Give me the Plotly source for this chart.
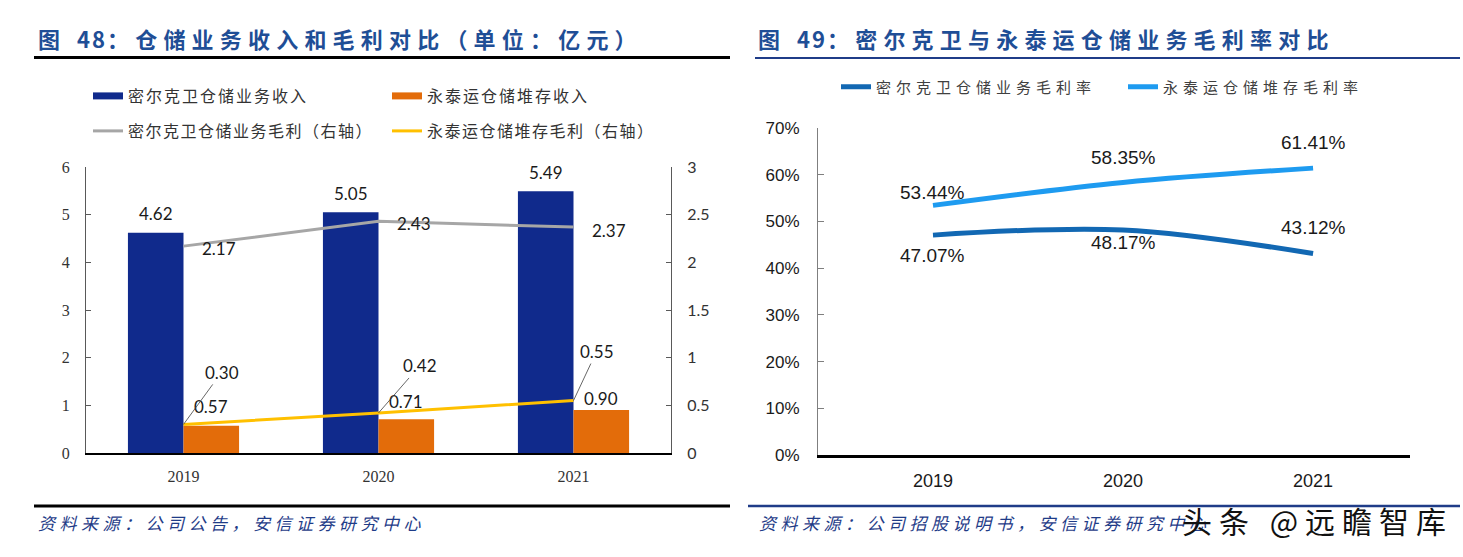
import plotly.graph_objects as go

W, H = 1463, 557

# ---------------- data ----------------
years = ["2019", "2020", "2021"]
mrkw_rev = [4.62, 5.05, 5.49]        # 密尔克卫仓储业务收入
ytw_rev = [0.57, 0.71, 0.90]         # 永泰运仓储堆存收入
mrkw_gp = [2.17, 2.43, 2.37]         # 密尔克卫仓储业务毛利（右轴）
ytw_gp = [0.30, 0.42, 0.55]          # 永泰运仓储堆存毛利（右轴）
mrkw_margin = [47.07, 48.17, 43.12]  # 密尔克卫仓储业务毛利率 (%)
ytw_margin = [53.44, 58.35, 61.41]   # 永泰运仓储堆存毛利率 (%)

left_ticks = [0, 1, 2, 3, 4, 5, 6]
right_ticks = [0, 0.5, 1, 1.5, 2, 2.5, 3]
right_ticktext = ["0", "0.5", "1", "1.5", "2", "2.5", "3"]
pct_ticks = [0, 10, 20, 30, 40, 50, 60, 70]
pct_ticktext = ["0%", "10%", "20%", "30%", "40%", "50%", "60%", "70%"]

# ---------------- styles ----------------
CJK = "Noto Sans CJK SC"
NAVY = "#102A8C"
ORANGE = "#E36C0A"
GRAY = "#A6A6A6"
YELLOW = "#FFC000"
DARKBLUE = "#1268B3"
LIGHTBLUE = "#1E9BF0"
TITLE_C = "#1F4E96"
FOOT_C = "#1F3C88"


def px(x):
    return x / W


def py(y):
    return 1 - y / H


def spaced(t, s):
    return f'<span style="letter-spacing:{s}px">{t}</span>'


fig = go.Figure()

fig.add_trace(go.Bar(x=years, y=mrkw_rev, marker=dict(color=NAVY, line=dict(width=0)),
                     name="密尔克卫仓储业务收入", showlegend=False, xaxis="x", yaxis="y"))
fig.add_trace(go.Bar(x=years, y=ytw_rev, marker=dict(color=ORANGE, line=dict(width=0)),
                     name="永泰运仓储堆存收入", showlegend=False, xaxis="x", yaxis="y"))
fig.add_trace(go.Scatter(x=years, y=mrkw_gp, mode="lines", line=dict(color=GRAY, width=3),
                         name=spaced("密尔克卫仓储业务毛利（右轴）", 1.5), legend="legend2",
                         xaxis="x", yaxis="y2"))
fig.add_trace(go.Scatter(x=years, y=ytw_gp, mode="lines", line=dict(color=YELLOW, width=3),
                         name=spaced("永泰运仓储堆存毛利（右轴）", 1.5), legend="legend2",
                         xaxis="x", yaxis="y2"))
fig.add_trace(go.Scatter(x=[None], y=[None], mode="lines", line=dict(color=NAVY, width=7),
                         name=spaced("密尔克卫仓储业务收入", 2), legend="legend", xaxis="x", yaxis="y"))
fig.add_trace(go.Scatter(x=[None], y=[None], mode="lines", line=dict(color=ORANGE, width=7),
                         name=spaced("永泰运仓储堆存收入", 2), legend="legend", xaxis="x", yaxis="y"))
fig.add_trace(go.Scatter(x=years, y=mrkw_margin, mode="lines",
                         line=dict(color=DARKBLUE, width=5, shape="spline", smoothing=1),
                         name=spaced("密尔克卫仓储业务毛利率", 5), legend="legend3",
                         xaxis="x2", yaxis="y3"))
fig.add_trace(go.Scatter(x=years, y=ytw_margin, mode="lines",
                         line=dict(color=LIGHTBLUE, width=5, shape="spline", smoothing=1),
                         name=spaced("永泰运仓储堆存毛利率", 5), legend="legend3",
                         xaxis="x2", yaxis="y3"))

annotations = []
annotations.append(dict(x=px(36), y=py(38), xref="paper", yref="paper", xanchor="left", yanchor="middle",
                        showarrow=False,
                        text="<b>" + spaced("图", 10) + spaced(" 48", 2) + spaced("：仓储业务收入和毛利对比（单位：亿元）", 6.2) + "</b>",
                        font=dict(family=CJK, size=22, color=TITLE_C)))
annotations.append(dict(x=px(756), y=py(38), xref="paper", yref="paper", xanchor="left", yanchor="middle",
                        showarrow=False,
                        text="<b>" + spaced("图", 10) + spaced(" 49", 2) + spaced("：密尔克卫与永泰运仓储业务毛利率对比", 6.2) + "</b>",
                        font=dict(family=CJK, size=22, color=TITLE_C)))
annotations.append(dict(x=px(36), y=py(522), xref="paper", yref="paper", xanchor="left", yanchor="middle",
                        showarrow=False, text="<i>" + spaced("资料来源：公司公告，安信证券研究中心", 4.5) + "</i>",
                        font=dict(family=CJK, size=17, color=FOOT_C)))
annotations.append(dict(x=px(757), y=py(522), xref="paper", yref="paper", xanchor="left", yanchor="middle",
                        showarrow=False, text="<i>" + spaced("资料来源：公司招股说明书，安信证券研究中心", 4.5) + "</i>",
                        font=dict(family=CJK, size=17, color=FOOT_C)))
annotations.append(dict(x=px(1180), y=py(520), xref="paper", yref="paper", xanchor="left", yanchor="middle",
                        showarrow=False, text=spaced("头条 @远瞻智库", 7),
                        font=dict(family=CJK, size=30, color="#111111")))

# data labels: x is the category index on the category axes
LBL = dict(family="Lato", size=17, color="#1a1a1a")
for i, v in enumerate(mrkw_rev):
    annotations.append(dict(x=i, y=v, xref="x", yref="y", text=f"{v:.2f}", showarrow=False,
                            xshift=-27.5, yshift=19, yanchor="middle", font=LBL))
for i, (v, ys) in enumerate(zip(ytw_rev, [19, 18, 12])):
    annotations.append(dict(x=i, y=v, xref="x", yref="y", text=f"{v:.2f}", showarrow=False,
                            xshift=27.5, yshift=ys, yanchor="middle", font=LBL))
for i, (v, ys) in enumerate(zip(mrkw_gp, [-2, -2, -3])):
    annotations.append(dict(x=i, y=v, xref="x", yref="y2", text=f"{v:.2f}", showarrow=False,
                            xshift=35, yshift=ys, yanchor="middle", font=LBL))
for i, (v, (ax, ay)) in enumerate(zip(ytw_gp, [(38, -52), (41, -47), (23, -49)])):
    annotations.append(dict(x=i, y=v, xref="x", yref="y2", text=f"{v:.2f}", showarrow=True,
                            arrowhead=0, arrowwidth=0.8, arrowcolor="#404040", ax=ax, ay=ay,
                            standoff=0, font=LBL))

LBL2 = dict(family="Liberation Sans", size=19, color="#1a1a1a")
for i, (v, ys) in enumerate(zip(ytw_margin, [13, 25, 26])):
    annotations.append(dict(x=i, y=v, xref="x2", yref="y3", text=f"{v:.2f}%", showarrow=False,
                            yshift=ys, yanchor="middle", font=LBL2))
for i, (v, ys) in enumerate(zip(mrkw_margin, [-20, -13, 26])):
    annotations.append(dict(x=i, y=v, xref="x2", yref="y3", text=f"{v:.2f}%", showarrow=False,
                            yshift=ys, yanchor="middle", font=LBL2))

shapes = [
    dict(type="line", xref="paper", yref="paper", x0=px(34), x1=px(730), y0=py(57.5), y1=py(57.5),
         line=dict(color="black", width=3)),
    dict(type="line", xref="paper", yref="paper", x0=px(755), x1=px(1460), y0=py(58), y1=py(58),
         line=dict(color=FOOT_C, width=2)),
    dict(type="line", xref="paper", yref="paper", x0=px(34), x1=px(730), y0=py(506), y1=py(506),
         line=dict(color="black", width=3)),
    dict(type="line", xref="paper", yref="paper", x0=px(748), x1=px(1460), y0=py(506), y1=py(506),
         line=dict(color=FOOT_C, width=2.5)),
]

legend_common = dict(orientation="h", xanchor="left", yanchor="middle", bgcolor="rgba(0,0,0,0)",
                     borderwidth=0, entrywidthmode="pixels", tracegroupgap=0,
                     font=dict(family=CJK, size=16, color="#333333"))

fig.update_layout(
    width=W, height=H, autosize=False,
    margin=dict(l=0, r=0, t=0, b=0, pad=0, autoexpand=False),
    paper_bgcolor="white", plot_bgcolor="white",
    barmode="group", bargap=0.43, bargroupgap=0,
    showlegend=True,
    legend=dict(legend_common, x=px(88), y=py(96), entrywidth=254),
    legend2=dict(legend_common, x=px(88), y=py(131), entrywidth=254),
    legend3=dict(legend_common, x=px(836), y=py(87), entrywidth=242,
                 font=dict(family=CJK, size=15, color="#404040")),
    xaxis=dict(domain=[px(86), px(671)], anchor="y", type="category", range=[-0.5, 2.5],
               showline=True, linecolor="black", linewidth=2, ticks="", showgrid=False, zeroline=False,
               tickfont=dict(family="Liberation Serif", size=16, color="#333333"),
               ticklabelstandoff=8),
    yaxis=dict(domain=[py(453), py(167)], anchor="x", range=[0, 6], tickvals=left_ticks,
               showline=True, linecolor="#595959", linewidth=1, ticks="inside", ticklen=5,
               tickcolor="#595959", showgrid=False, zeroline=False,
               tickfont=dict(family="Liberation Serif", size=16, color="#333333"),
               ticklabelstandoff=12),
    yaxis2=dict(overlaying="y", side="right", anchor="x", range=[0, 3], tickvals=right_ticks,
                ticktext=right_ticktext,
                showline=True, linecolor="#595959", linewidth=1, ticks="inside", ticklen=5,
                tickcolor="#595959", showgrid=False, zeroline=False,
                tickfont=dict(family="Lato", size=16, color="#333333"),
                ticklabelstandoff=12),
    xaxis2=dict(domain=[px(818), px(1410)], anchor="y3", type="category", range=[-0.605, 2.51],
                showline=True, linecolor="black", linewidth=2.5, ticks="", showgrid=False, zeroline=False,
                tickfont=dict(family="Liberation Sans", size=18, color="#1a1a1a"),
                ticklabelstandoff=8),
    yaxis3=dict(domain=[py(455), py(128)], anchor="x2", range=[0, 70], tickvals=pct_ticks,
                ticktext=pct_ticktext, showline=True, linecolor="#7f7f7f", linewidth=1, ticks="inside",
                ticklen=6, tickcolor="#7f7f7f", showgrid=False, zeroline=False,
                tickfont=dict(family="Liberation Sans", size=17, color="#1a1a1a"),
                ticklabelstandoff=14),
    annotations=annotations,
    shapes=shapes,
)

fig.write_html("out.html")
